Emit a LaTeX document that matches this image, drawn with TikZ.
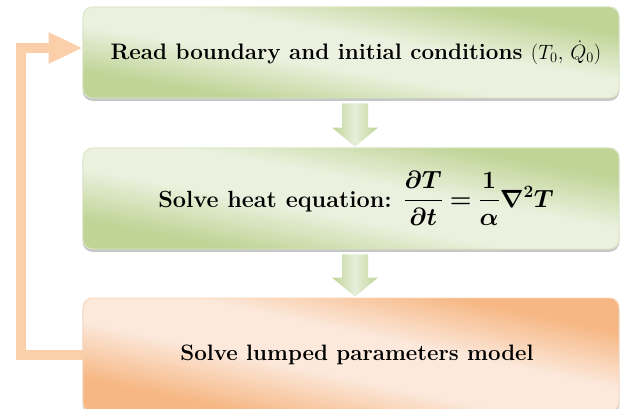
\documentclass[tikz,border=0pt]{standalone}
\usepackage{amsmath,bm}
\usetikzlibrary{arrows.meta,calc,backgrounds}
\definecolor{gdark}{HTML}{C0D497}
\definecolor{glight}{HTML}{EBF1DE}
\definecolor{odark}{HTML}{F6B784}
\definecolor{olight}{HTML}{FCE9DC}
\definecolor{loopc}{HTML}{FBCFAA}
\definecolor{adark}{HTML}{BFD496}
\definecolor{alight}{HTML}{E6EEDA}
\pgfdeclareverticalshading{gshade}{100bp}{color(0bp)=(gdark); color(25bp)=(gdark);
  color(43bp)=(glight); color(57bp)=(glight); color(75bp)=(gdark); color(100bp)=(gdark)}
\pgfdeclareverticalshading{oshade}{100bp}{color(0bp)=(odark); color(25bp)=(odark);
  color(43bp)=(olight); color(57bp)=(olight); color(75bp)=(odark); color(100bp)=(odark)}
\newcommand\blockarr[2]{%
  \shade[left color=adark, right color=adark, middle color=alight]
    ($(#1.south)+(-9,5)$) -- ($(#1.south)+(17,5)$) -- ($(#2.north)+(17,-20)$)
    -- ($(#2.north)+(27,-20)$) -- ($(#2.north)+(4,-1)$) -- ($(#2.north)+(-19,-20)$)
    -- ($(#2.north)+(-9,-20)$) -- cycle;}
% #1 node, #2 half height, #3 xscale, #4 shading, #5 light
\newcommand\boxbg[5]{%
  \fill[black, opacity=0.22, rounded corners=10pt]
    ([yshift=-2.5pt]#1.south west) rectangle ([yshift=-2.5pt]#1.north east);
  \begin{scope}
    \clip[rounded corners=10pt] (#1.south west) rectangle (#1.north east);
    \fill[#5] (#1.south west) rectangle (#1.north east);
    \begin{scope}[transform canvas={shift={(#1.center)}, xscale=#3}]
      \shade[shading=#4, shading angle=-45]
        (-#2pt,-#2pt) rectangle (#2pt,#2pt);
    \end{scope}
  \end{scope}}
\begin{document}
\begin{tikzpicture}[x=1pt,y=-1pt,
  box/.style={rectangle, rounded corners=10pt, minimum width=536pt, inner sep=0pt,
    line width=0.8pt},
  gbox/.style={box, draw=gdark!60!white},
  obox/.style={box, draw=odark!60!white},
  loopline/.style={draw=loopc, line width=10pt, -{Triangle[length=34pt,width=29pt]}}]
\useasboundingbox (0,0) rectangle (621,409);
\node[gbox, minimum height=91pt, font=\fontsize{22.4}{26}\selectfont\bfseries] (b1) at (351,52.5)
  {\hspace*{10pt}\raisebox{3pt}{Read boundary and initial conditions $(T_0,\,\dot{Q}_0)$}};
\node[gbox, minimum height=101pt, font=\fontsize{23.4}{27}\selectfont\bfseries] (b2) at (351,198.5)
  {\hspace*{10pt}\raisebox{5pt}{Solve heat equation: $\bm{\dfrac{\partial T}{\partial t} = \dfrac{1}{\alpha}\nabla^2 T}$}};
\node[obox, minimum height=114pt, font=\fontsize{22.3}{26}\selectfont\bfseries] (b3) at (351,355)
  {\hspace*{12pt}\raisebox{-2pt}{Solve lumped parameters model}};
\begin{scope}[on background layer]
  \boxbg{b1}{45.5}{5.89}{gshade}{glight}
  \boxbg{b2}{50.5}{5.31}{gshade}{glight}
  \boxbg{b3}{57}{4.70}{oshade}{olight}
\end{scope}
\blockarr{b1}{b2}
\blockarr{b2}{b3}
\draw[loopline] (b3.west) -- ++(-62,0) |- ([yshift=4.5pt]b1.west);
\end{tikzpicture}
\end{document}
